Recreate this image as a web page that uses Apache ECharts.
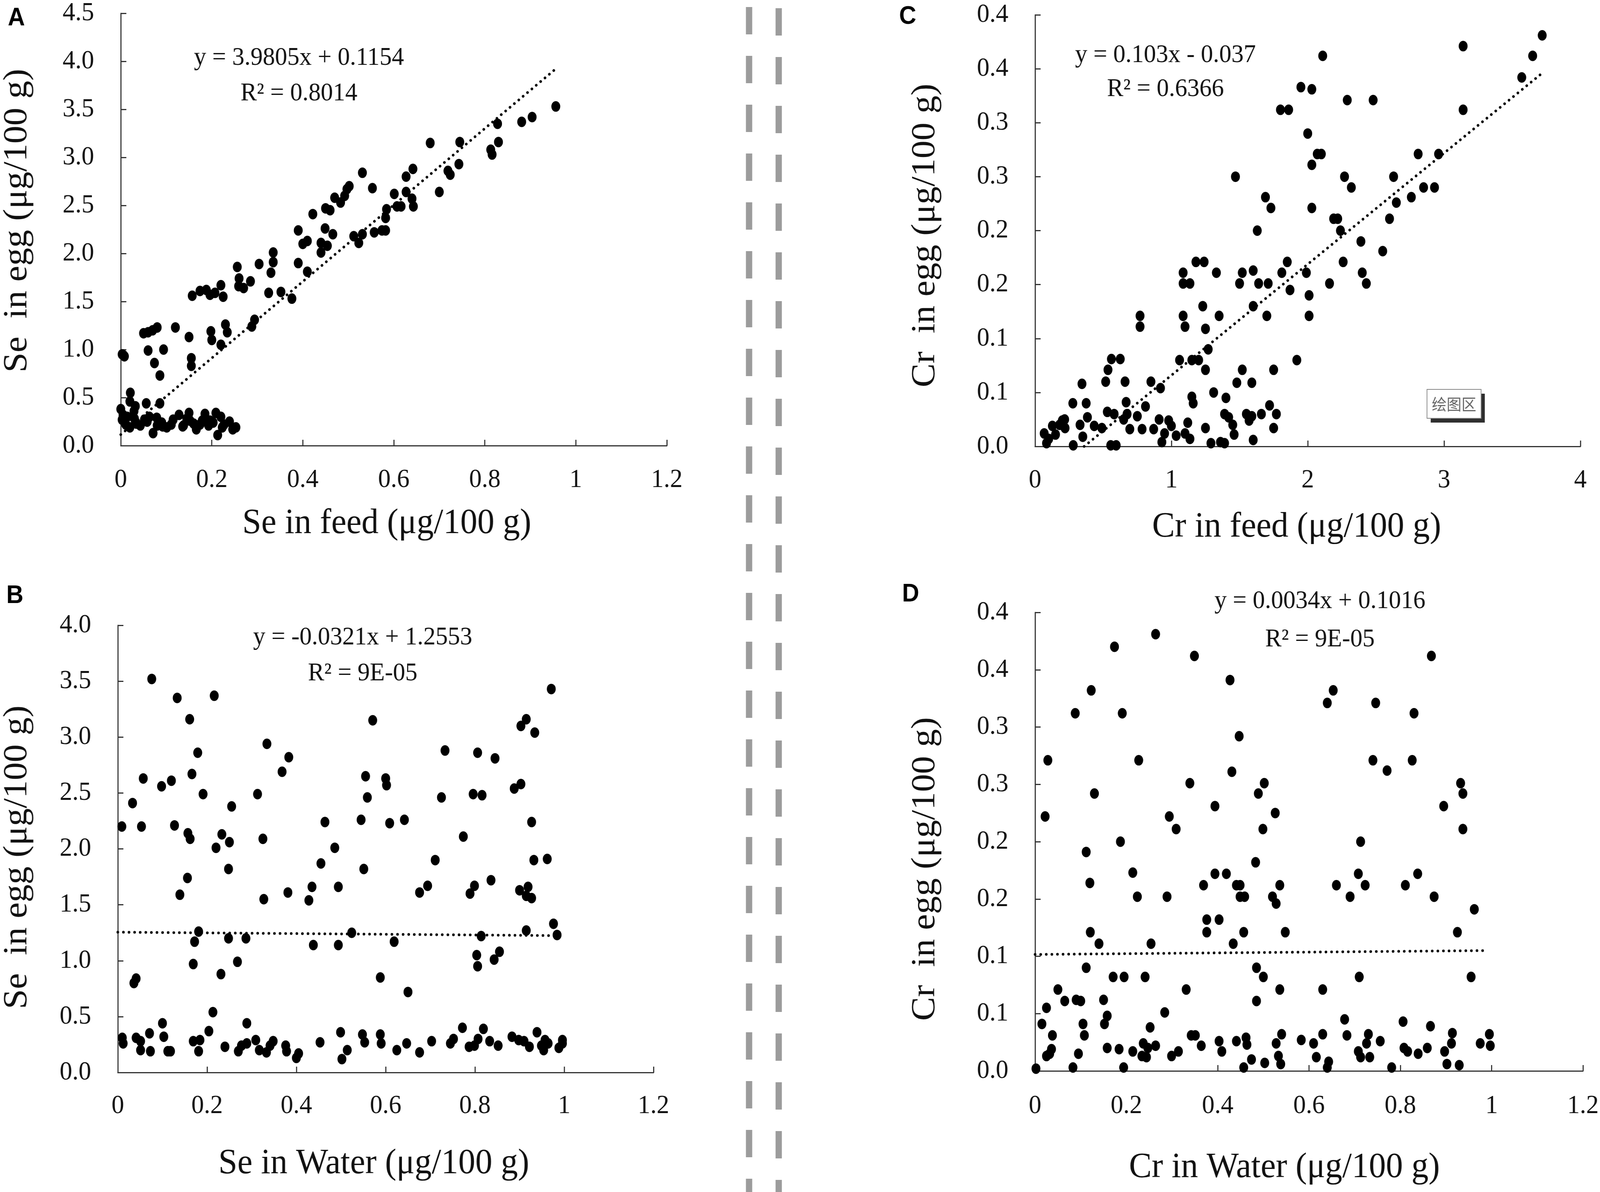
<!DOCTYPE html>
<html>
<head>
<meta charset="utf-8">
<title>Se and Cr in egg vs feed and water</title>
<script src="https://cdn.jsdelivr.net/npm/echarts@6/dist/echarts.min.js"></script>
<style>
  html, body { margin: 0; padding: 0; background: #fff; overflow: hidden; }
  #chart { width: 4319px; height: 3052px; transform-origin: 0 0; }
</style>
</head>
<body>
<div id="chart"></div>
<script>
// values: [x, y]
const seFeed = [
  [0.003, 0.95], [0.008, 0.93], [0.006, 0.94],
  [0.05, 1.17], [0.06, 1.18], [0.07, 1.20], [0.08, 1.23], [0.06, 0.99], [0.094, 1.0],
  [0.074, 0.86], [0.086, 0.73], [0.12, 1.23],
  [0.15, 1.13], [0.155, 0.91], [0.155, 0.83],
  [0.157, 1.56], [0.174, 1.61], [0.188, 1.62], [0.196, 1.57], [0.207, 1.59], [0.22, 1.67], [0.225, 1.55],
  [0.198, 1.19], [0.2, 1.10], [0.22, 1.05], [0.23, 1.26], [0.234, 1.18],
  [0.256, 1.86], [0.259, 1.66], [0.27, 1.64], [0.285, 1.71], [0.26, 1.74],
  [0.288, 1.24], [0.294, 1.31],
  [0.304, 1.89], [0.325, 1.59], [0.33, 1.80], [0.335, 1.91], [0.335, 2.01], [0.352, 1.60], [0.376, 1.53],
  [0.39, 2.24], [0.39, 1.90], [0.40, 2.10], [0.41, 2.13], [0.41, 1.81], [0.422, 2.41], [0.44, 2.11],
  [0.44, 2.01], [0.449, 2.26], [0.45, 2.47], [0.454, 2.08], [0.46, 2.45], [0.466, 2.20], [0.47, 2.58],
  [0.483, 2.53], [0.492, 2.60], [0.497, 2.67], [0.502, 2.70], [0.512, 2.18], [0.523, 2.11], [0.531, 2.20],
  [0.531, 2.84], [0.553, 2.68], [0.557, 2.22], [0.574, 2.24], [0.582, 2.24], [0.582, 2.37], [0.584, 2.46],
  [0.601, 2.62], [0.607, 2.49], [0.616, 2.49], [0.627, 2.64], [0.627, 2.80], [0.64, 2.57], [0.642, 2.88],
  [0.643, 2.49], [0.68, 3.15], [0.70, 2.64], [0.719, 2.86], [0.724, 2.82], [0.743, 2.93], [0.745, 3.16],
  [0.813, 3.08], [0.816, 3.03], [0.828, 3.35], [0.83, 3.16], [0.881, 3.37], [0.904, 3.42], [0.956, 3.53],
  [0.021, 0.55], [0.02, 0.46], [0.0, 0.38], [0.032, 0.41], [0.056, 0.44], [0.086, 0.44],
  [0.003, 0.27], [0.011, 0.22], [0.02, 0.19], [0.034, 0.23], [0.052, 0.27], [0.058, 0.25],
  [0.071, 0.13], [0.079, 0.29], [0.09, 0.24], [0.101, 0.19], [0.115, 0.27], [0.128, 0.32],
  [0.136, 0.20], [0.15, 0.34], [0.152, 0.26], [0.166, 0.17], [0.174, 0.22], [0.185, 0.33],
  [0.196, 0.26], [0.209, 0.34], [0.213, 0.11], [0.22, 0.30], [0.223, 0.19], [0.239, 0.25],
  [0.253, 0.19], [0.005, 0.32], [0.014, 0.30], [0.029, 0.36], [0.043, 0.21], [0.063, 0.30],
  [0.092, 0.20], [0.111, 0.22], [0.138, 0.21], [0.145, 0.28], [0.179, 0.26], [0.193, 0.21],
  [0.203, 0.24], [0.227, 0.22], [0.246, 0.17], [0.03, 0.28], [0.08, 0.21], [0.16, 0.23]
];

const seWater = [
  [0.009, 2.20], [0.01, 0.31], [0.012, 0.26], [0.033, 2.41], [0.036, 0.80], [0.041, 0.84], [0.041, 0.31],
  [0.051, 0.28], [0.051, 0.20], [0.053, 2.20], [0.057, 2.63], [0.071, 0.35], [0.073, 0.19], [0.076, 3.52],
  [0.098, 2.56], [0.1, 0.44], [0.103, 0.32], [0.112, 0.19], [0.12, 2.61], [0.118, 0.19], [0.127, 2.21],
  [0.133, 3.35], [0.139, 1.59], [0.156, 1.74], [0.157, 2.14], [0.161, 3.16], [0.162, 2.09], [0.166, 2.67],
  [0.169, 0.97], [0.169, 0.28], [0.172, 1.17], [0.179, 2.86], [0.181, 1.26], [0.181, 0.19], [0.184, 0.29],
  [0.191, 2.49], [0.204, 0.37], [0.213, 0.54], [0.216, 3.37], [0.22, 2.01], [0.231, 0.88], [0.233, 2.13],
  [0.24, 0.23], [0.248, 1.20], [0.25, 2.06], [0.248, 1.82], [0.255, 2.38], [0.268, 0.99], [0.27, 0.19],
  [0.277, 0.24], [0.287, 1.20], [0.289, 0.44], [0.289, 0.26], [0.313, 2.49], [0.309, 0.29], [0.317, 0.20],
  [0.325, 2.09], [0.327, 1.55], [0.334, 2.94], [0.333, 0.18], [0.341, 0.24], [0.348, 0.28], [0.368, 2.69],
  [0.376, 0.24], [0.378, 0.19], [0.381, 1.61], [0.383, 2.82], [0.40, 0.13], [0.405, 0.17], [0.428, 1.54],
  [0.435, 1.66], [0.438, 1.14], [0.453, 0.27], [0.455, 1.87], [0.464, 2.24], [0.486, 2.01], [0.494, 1.66],
  [0.494, 1.14], [0.499, 0.36], [0.502, 0.12], [0.514, 0.20], [0.524, 1.25], [0.545, 2.26], [0.548, 0.34],
  [0.551, 1.82], [0.553, 0.27], [0.555, 2.65], [0.559, 2.46], [0.571, 3.15], [0.588, 0.85], [0.588, 0.34],
  [0.59, 0.26], [0.60, 2.63], [0.602, 2.57], [0.609, 2.23], [0.619, 1.17], [0.625, 0.20], [0.642, 2.26],
  [0.647, 0.26], [0.65, 0.72], [0.676, 1.61], [0.676, 0.18], [0.694, 1.67], [0.703, 0.28], [0.711, 1.90],
  [0.725, 2.46], [0.733, 2.88], [0.745, 0.26], [0.752, 0.30], [0.772, 0.40], [0.774, 2.11], [0.787, 0.23],
  [0.789, 1.60], [0.796, 2.49], [0.799, 1.67], [0.799, 0.24], [0.804, 1.05], [0.806, 2.86], [0.806, 0.95],
  [0.807, 0.30], [0.816, 2.48], [0.814, 1.22], [0.819, 0.39], [0.833, 0.28], [0.836, 1.72], [0.843, 1.01],
  [0.845, 2.81], [0.852, 0.24], [0.855, 1.08], [0.883, 0.32], [0.888, 2.54], [0.898, 0.29], [0.903, 3.10],
  [0.903, 2.58], [0.90, 1.63], [0.91, 0.28], [0.915, 3.16], [0.915, 1.58], [0.915, 1.27], [0.919, 1.66],
  [0.922, 0.23], [0.927, 1.56], [0.927, 2.24], [0.932, 1.90], [0.934, 3.04], [0.939, 0.36], [0.949, 0.24],
  [0.954, 0.20], [0.957, 0.29], [0.962, 1.91], [0.964, 0.26], [0.971, 3.43], [0.976, 1.33], [0.984, 1.23],
  [0.988, 0.22], [0.996, 0.26], [0.996, 0.29]
];

const crFeed = [
  [0.067, 0.012], [0.084, 0.003], [0.1, 0.007], [0.127, 0.019], [0.15, 0.011], [0.18, 0.02], [0.2, 0.024],
  [0.22, 0.017], [0.217, 0.025], [0.277, 0.04], [0.28, 0.001], [0.33, 0.02], [0.344, 0.058], [0.35, 0.009],
  [0.375, 0.04], [0.384, 0.027], [0.434, 0.019], [0.49, 0.017], [0.518, 0.06], [0.535, 0.071], [0.53, 0.032],
  [0.56, 0.081], [0.555, 0.001], [0.58, 0.03], [0.595, 0.001], [0.625, 0.081], [0.65, 0.025], [0.66, 0.06],
  [0.668, 0.041], [0.675, 0.03], [0.695, 0.016], [0.75, 0.028], [0.77, 0.111], [0.77, 0.121], [0.785, 0.016],
  [0.81, 0.037], [0.85, 0.06], [0.87, 0.016], [0.91, 0.025], [0.92, 0.054], [0.93, 0.004], [0.95, 0.012],
  [0.98, 0.024], [1.0, 0.019], [1.035, 0.01], [1.06, 0.08], [1.086, 0.161], [1.086, 0.151], [1.086, 0.121],
  [1.1, 0.111], [1.1, 0.012], [1.12, 0.022], [1.136, 0.007], [1.136, 0.151], [1.15, 0.046], [1.16, 0.04],
  [1.15, 0.08], [1.2, 0.08], [1.18, 0.171], [1.23, 0.13], [1.24, 0.171], [1.25, 0.109], [1.25, 0.071],
  [1.25, 0.017], [1.27, 0.09], [1.29, 0.003], [1.31, 0.05], [1.33, 0.161], [1.35, 0.121], [1.36, 0.004],
  [1.39, 0.003], [1.39, 0.03], [1.40, 0.045], [1.42, 0.027], [1.45, 0.02], [1.46, 0.011], [1.47, 0.25],
  [1.48, 0.059], [1.50, 0.151], [1.52, 0.161], [1.52, 0.071], [1.55, 0.03], [1.57, 0.024], [1.59, 0.059],
  [1.59, 0.028], [1.60, 0.163], [1.60, 0.13], [1.60, 0.006], [1.63, 0.20], [1.64, 0.151], [1.66, 0.03],
  [1.69, 0.231], [1.70, 0.121], [1.71, 0.151], [1.72, 0.038], [1.73, 0.221], [1.75, 0.071], [1.75, 0.017],
  [1.77, 0.03], [1.80, 0.312], [1.81, 0.161], [1.85, 0.171], [1.86, 0.312], [1.87, 0.145], [1.92, 0.08],
  [1.95, 0.333], [1.99, 0.161], [2.0, 0.29], [2.01, 0.14], [2.01, 0.121], [2.03, 0.331], [2.03, 0.221],
  [2.03, 0.261], [2.07, 0.271], [2.10, 0.271], [2.11, 0.362], [2.16, 0.151], [2.19, 0.211], [2.22, 0.211],
  [2.24, 0.20], [2.26, 0.171], [2.27, 0.25], [2.29, 0.321], [2.32, 0.24], [2.39, 0.19], [2.40, 0.161],
  [2.43, 0.151], [2.48, 0.321], [2.55, 0.181], [2.60, 0.211], [2.63, 0.25], [2.65, 0.226], [2.76, 0.231],
  [2.81, 0.271], [2.85, 0.24], [2.93, 0.24], [2.96, 0.271], [3.14, 0.371], [3.14, 0.312], [3.57, 0.342],
  [3.65, 0.362], [3.72, 0.381]
];

const crWater = [
  [0.002, 0.002], [0.015, 0.041], [0.022, 0.222], [0.025, 0.055], [0.028, 0.271], [0.025, 0.013],
  [0.032, 0.015], [0.038, 0.031], [0.036, 0.019], [0.05, 0.071], [0.065, 0.061], [0.083, 0.003],
  [0.088, 0.312], [0.09, 0.062], [0.095, 0.015], [0.1, 0.061], [0.105, 0.041], [0.108, 0.031],
  [0.112, 0.09], [0.112, 0.191], [0.12, 0.164], [0.121, 0.121], [0.123, 0.332], [0.13, 0.242],
  [0.14, 0.111], [0.15, 0.062], [0.152, 0.041], [0.158, 0.048], [0.158, 0.02], [0.171, 0.082],
  [0.174, 0.37], [0.184, 0.019], [0.187, 0.20], [0.191, 0.312], [0.194, 0.003], [0.195, 0.082],
  [0.214, 0.017], [0.214, 0.173], [0.224, 0.152], [0.227, 0.271], [0.234, 0.013], [0.237, 0.024],
  [0.241, 0.082], [0.244, 0.012], [0.247, 0.02], [0.254, 0.111], [0.252, 0.038], [0.264, 0.022],
  [0.264, 0.381], [0.284, 0.051], [0.289, 0.152], [0.294, 0.222], [0.299, 0.013], [0.309, 0.211],
  [0.314, 0.017], [0.331, 0.071], [0.339, 0.251], [0.342, 0.031], [0.349, 0.362], [0.351, 0.031],
  [0.364, 0.022], [0.369, 0.162], [0.376, 0.132], [0.376, 0.121], [0.394, 0.231], [0.394, 0.172],
  [0.403, 0.132], [0.403, 0.026], [0.409, 0.017], [0.419, 0.172], [0.427, 0.341], [0.431, 0.261],
  [0.434, 0.111], [0.441, 0.162], [0.441, 0.026], [0.447, 0.292], [0.449, 0.162], [0.449, 0.152],
  [0.459, 0.152], [0.457, 0.121], [0.457, 0.003], [0.462, 0.029], [0.464, 0.023], [0.474, 0.01],
  [0.483, 0.182], [0.485, 0.09], [0.485, 0.061], [0.489, 0.242], [0.499, 0.211], [0.50, 0.082],
  [0.502, 0.251], [0.503, 0.007], [0.52, 0.152], [0.526, 0.225], [0.528, 0.146], [0.528, 0.024],
  [0.533, 0.013], [0.536, 0.071], [0.536, 0.162], [0.538, 0.006], [0.54, 0.032], [0.548, 0.121],
  [0.583, 0.027], [0.61, 0.024], [0.616, 0.012], [0.63, 0.071], [0.63, 0.032], [0.64, 0.321],
  [0.64, 0.003], [0.643, 0.008], [0.653, 0.332], [0.66, 0.162], [0.678, 0.045], [0.683, 0.031],
  [0.69, 0.152], [0.708, 0.172], [0.708, 0.017], [0.71, 0.082], [0.713, 0.20], [0.713, 0.012],
  [0.723, 0.162], [0.726, 0.024], [0.73, 0.032], [0.733, 0.012], [0.74, 0.271], [0.746, 0.321],
  [0.756, 0.026], [0.771, 0.262], [0.781, 0.003], [0.806, 0.043], [0.808, 0.02], [0.811, 0.162],
  [0.816, 0.017], [0.826, 0.271], [0.83, 0.312], [0.838, 0.172], [0.839, 0.015], [0.859, 0.02],
  [0.866, 0.039], [0.868, 0.362], [0.874, 0.152], [0.895, 0.231], [0.897, 0.017], [0.902, 0.006],
  [0.912, 0.024], [0.914, 0.033], [0.925, 0.121], [0.929, 0.005], [0.932, 0.251], [0.937, 0.242],
  [0.937, 0.211], [0.955, 0.082], [0.962, 0.141], [0.975, 0.024], [0.995, 0.032], [0.997, 0.022]
];

// dotted trendline end points
const trendSeFeed = [[0, 0.115], [0.958, 3.93]];
const trendSeWater = [[0.0, 1.255], [0.99, 1.224]];
const trendCrFeed = [[0.36, 0], [3.72, 0.346]];
const trendCrWater = [[0.0, 0.1016], [0.99, 0.105]];

const seYTicks = v => v.toFixed(1);
const crYLabels = ["0.0", "0.1", "0.1", "0.2", "0.2", "0.3", "0.3", "0.4", "0.4"];

const equations = [
  { text: "y = 3.9805x + 0.1154", r2: "R² = 0.8014", x: 807, y: 149, ry: 240 },
  { text: "y = -0.0321x + 1.2553", r2: "R² = 9E-05", x: 979, y: 1633, ry: 1725 },
  { text: "y = 0.103x - 0.037", r2: "R² = 0.6366", x: 3146, y: 142, ry: 229 },
  { text: "y = 0.0034x + 0.1016", r2: "R² = 9E-05", x: 3563, y: 1540, ry: 1638 }
];

const xTitles = [
  { text: "Se in feed (μg/100 g)", x: 1044, y: 1341 },
  { text: "Se in Water (μg/100 g)", x: 1009, y: 2980 },
  { text: "Cr in feed (μg/100 g)", x: 3500, y: 1350 },
  { text: "Cr in Water (μg/100 g)", x: 3467, y: 2990 }
];
const yTitles = [
  { text: "Se  in egg (μg/100 g)", x: 47, y: 565 },
  { text: "Se  in egg (μg/100 g)", x: 47, y: 2195 },
  { text: "Cr  in egg (μg/100 g)", x: 2498, y: 603 },
  { text: "Cr  in egg (μg/100 g)", x: 2498, y: 2225 }
];
const letters = [
  { text: "A", x: 44, y: 47 },
  { text: "B", x: 40, y: 1526 },
  { text: "C", x: 2450, y: 43 },
  { text: "D", x: 2458, y: 1522 }
];

const serif = "Liberation Serif, Times New Roman, serif";
const axisColor = "#333";

function xAxis(gridIndex, max, interval, margin) {
  return {
    type: "value", gridIndex, min: 0, max, interval,
    axisLine: { show: true, onZero: false, lineStyle: { color: axisColor, width: 3 } },
    axisTick: { show: true, inside: true, length: 15, lineStyle: { color: axisColor, width: 3 } },
    axisLabel: { color: "#111", fontFamily: serif, fontSize: 68, margin },
    splitLine: { show: false }
  };
}

function yAxis(gridIndex, max, interval, formatter) {
  return {
    type: "value", gridIndex, min: 0, max, interval,
    axisLine: { show: true, onZero: false, lineStyle: { color: axisColor, width: 3 } },
    axisTick: { show: true, inside: true, length: 15, lineStyle: { color: axisColor, width: 3 } },
    axisLabel: { color: "#111", fontFamily: serif, fontSize: 68, margin: 72, formatter },
    splitLine: { show: false }
  };
}

function scatter(idx, data) {
  return {
    type: "scatter", xAxisIndex: idx, yAxisIndex: idx, data,
    symbol: "circle", symbolSize: [24, 27], itemStyle: { color: "#000", opacity: 1 }, z: 2
  };
}

function trend(idx, data) {
  return {
    type: "line", xAxisIndex: idx, yAxisIndex: idx, data,
    showSymbol: false, symbol: "none", z: 3,
    lineStyle: { color: "#000", width: 7, type: [0.1, 15], cap: "round" }
  };
}

const graphics = [];
// double dashed separator
[[2022, 18], [2102, 21]].forEach(([x, y0]) => {
  graphics.push({
    type: "line", silent: true,
    shape: { x1: x, y1: y0, x2: x, y2: 3052 },
    style: { stroke: "#9c9c9c", lineWidth: 17, lineDash: [70, 55] }
  });
});
equations.forEach((e) => {
  graphics.push({ type: "text", style: { text: e.text, x: e.x, y: e.y, textAlign: "center", textVerticalAlign: "middle", font: "66px " + serif, fill: "#111" } });
  graphics.push({ type: "text", style: { text: e.r2, x: e.x, y: e.ry, textAlign: "center", textVerticalAlign: "middle", font: "66px " + serif, fill: "#111" } });
});
xTitles.forEach((t) => {
  graphics.push({ type: "text", style: { text: t.text, x: t.x, y: t.y, textAlign: "center", textVerticalAlign: "middle", font: "92px " + serif, fill: "#111" } });
});
yTitles.forEach((t) => {
  graphics.push({
    type: "text", x: t.x, y: t.y, rotation: Math.PI / 2,
    style: { text: t.text, x: 0, y: 0, textAlign: "center", textVerticalAlign: "middle", font: "92px " + serif, fill: "#111" }
  });
});
letters.forEach((t) => {
  graphics.push({ type: "text", style: { text: t.text, x: t.x, y: t.y, textAlign: "center", textVerticalAlign: "middle", font: "bold 64px Liberation Sans, Arial, sans-serif", fill: "#000" } });
});
// the stray "plot area" tag left in panel C
graphics.push({ type: "rect", shape: { x: 3862, y: 1008, width: 146, height: 74 }, style: { fill: "#2f2f2f" } });
graphics.push({ type: "rect", shape: { x: 3852, y: 997, width: 146, height: 74 }, style: { fill: "#fff", stroke: "#888", lineWidth: 2 } });
graphics.push({ type: "text", style: { text: "绘图区", x: 3925, y: 1035, textAlign: "center", textVerticalAlign: "middle", font: "40px Noto Sans CJK SC", fill: "#666" } });

// the window can be narrower than the 4319 x 3052 figure: squeeze the whole figure to fit
const box = document.getElementById("chart");
const sx = Math.min(1, (window.innerWidth || 4319) / 4319);
const sy = Math.min(1, (window.innerHeight || 3052) / 3052);
box.style.transform = "scale(" + sx + "," + sy + ")";

const chart = echarts.init(box, null, { renderer: "canvas", width: 4319, height: 3052 });
chart.setOption({
  backgroundColor: "#fff",
  animation: false,
  grid: [
    { left: 326, top: 29, width: 1474, height: 1112 },
    { left: 318, top: 1601, width: 1446, height: 1145 },
    { left: 2794, top: 38, width: 1472, height: 1105 },
    { left: 2794, top: 1568, width: 1479, height: 1174 }
  ],
  xAxis: [
    xAxis(0, 1.2, 0.2, 54),
    xAxis(1, 1.2, 0.2, 52),
    xAxis(2, 4, 1, 53),
    xAxis(3, 1.2, 0.2, 56)
  ],
  yAxis: [
    yAxis(0, 4.5, 0.5, seYTicks),
    yAxis(1, 4.0, 0.5, seYTicks),
    yAxis(2, 0.4, 0.05, (v, i) => crYLabels[i]),
    yAxis(3, 0.4, 0.05, (v, i) => crYLabels[i])
  ],
  series: [
    scatter(0, seFeed), trend(0, trendSeFeed),
    scatter(1, seWater), trend(1, trendSeWater),
    scatter(2, crFeed), trend(2, trendCrFeed),
    scatter(3, crWater), trend(3, trendCrWater)
  ],
  graphic: graphics
});
</script>
</body>
</html>
